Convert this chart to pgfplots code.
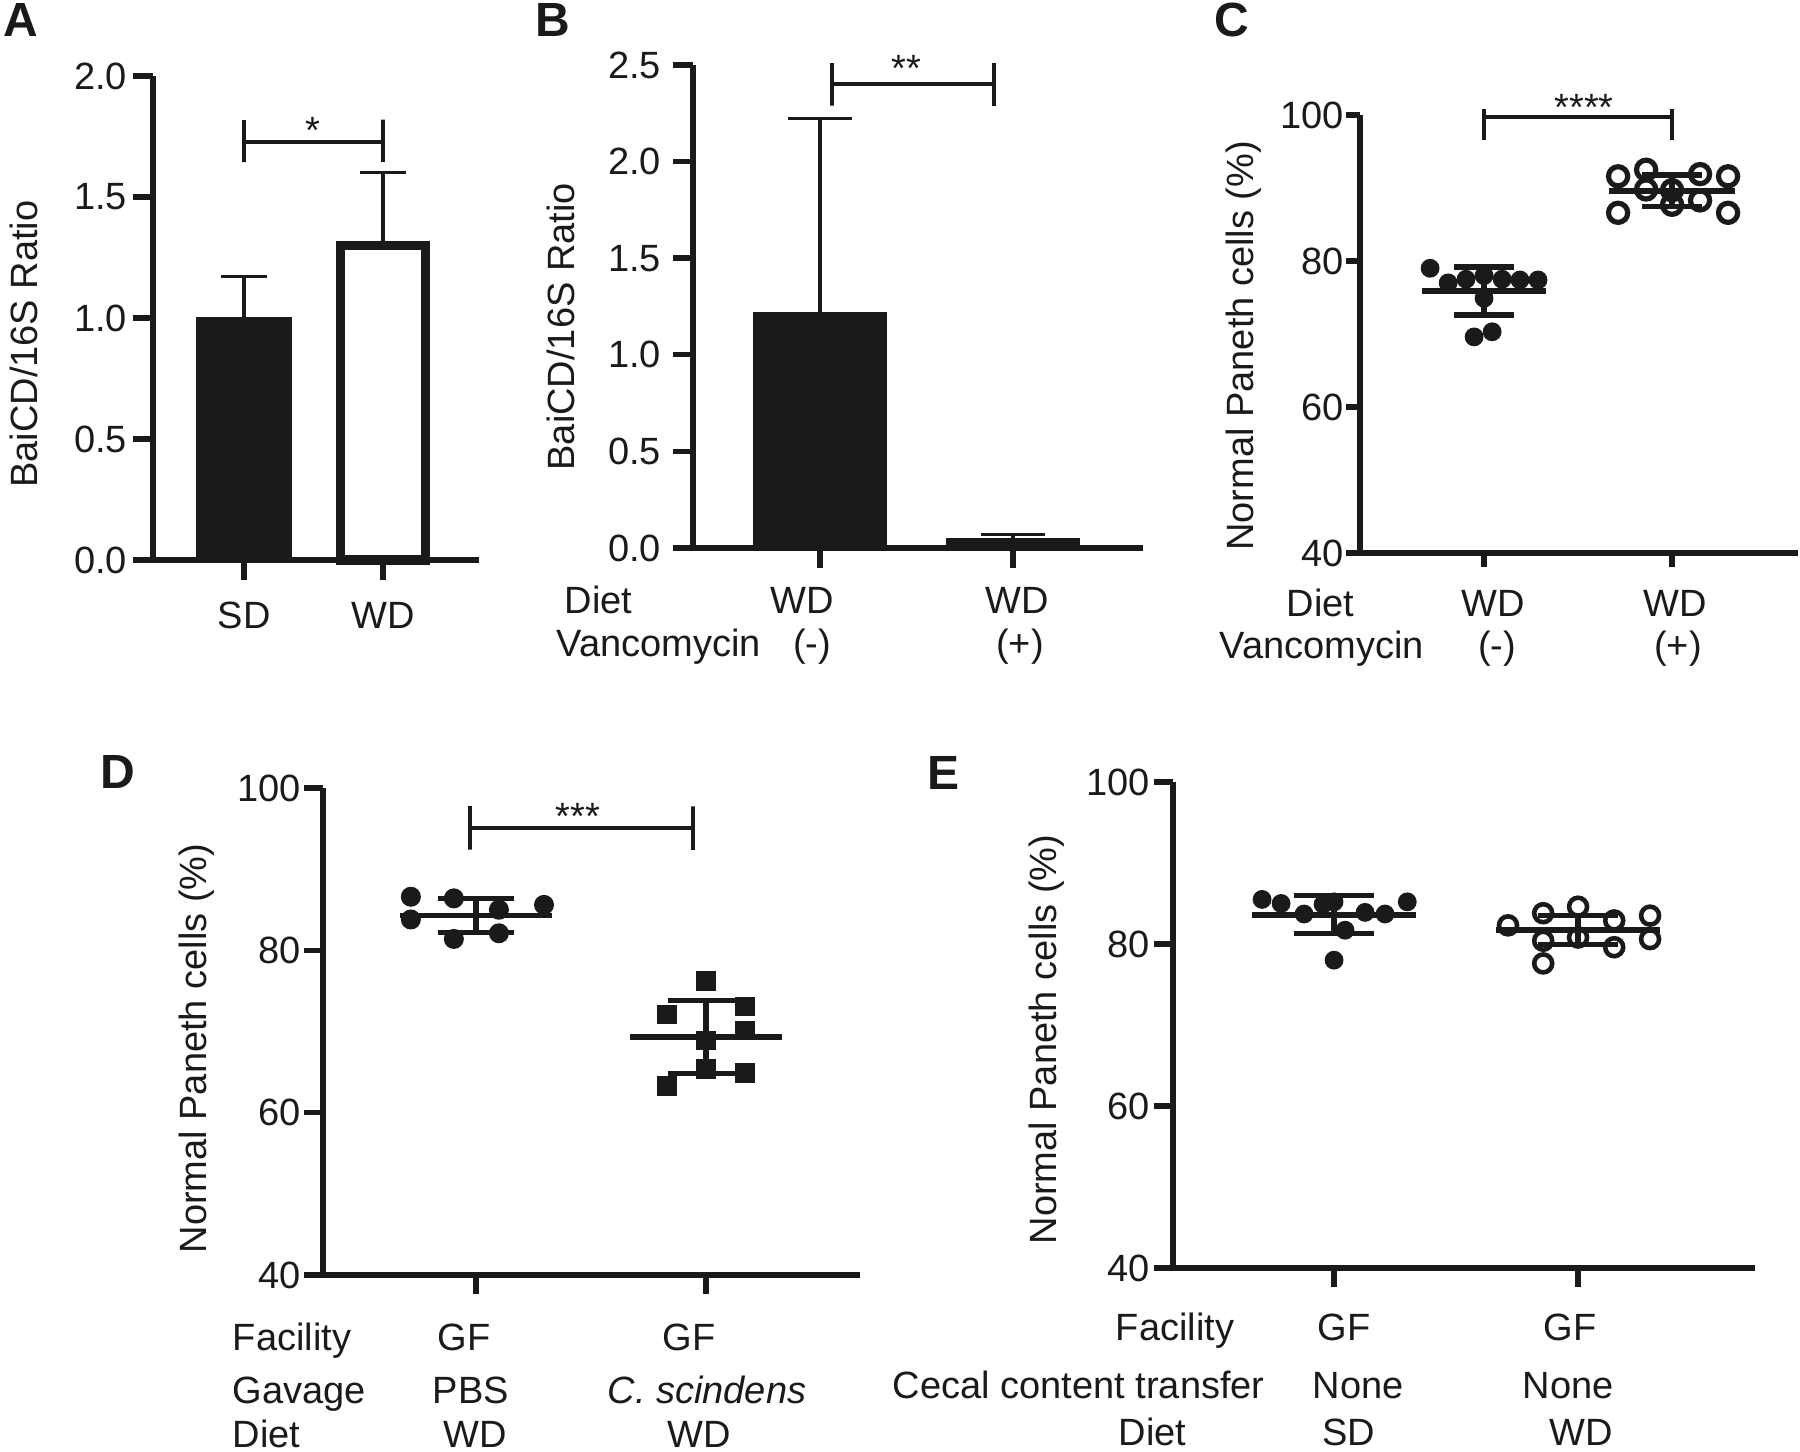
\documentclass[border=0pt]{standalone}
\usepackage{fontspec}
\setmainfont{Liberation Sans}
\usepackage{pgfplots}
\pgfplotsset{compat=1.18}
\newcommand{\lbl}{\fontsize{9.5pt}{11pt}\selectfont}
\newcommand{\pl}{\fontsize{12pt}{14pt}\selectfont\bfseries}
\definecolor{ink}{HTML}{1A1A1A}
\pgfplotsset{
  gp/.style={
    scale only axis, anchor=south west, clip=false,
    axis lines=left, axis line style={line width=1.35pt,-,ink},
    tick align=outside, major tick length=4.75pt,
    every tick/.style={ink, line width=1.35pt},
    tick label style={font=\lbl, text=ink},
    label style={font=\lbl, text=ink},
    /pgf/number format/assume math mode=true,
    xtick={1,2}, xticklabels={}, minor tick num=0,
    every axis plot/.append style={ink},
  },
  pct/.style={gp, ymin=40, ymax=100, ytick={40,60,80,100}, ylabel={Normal Paneth cells (\%)}},
  ratio/.style={gp, ymin=0, yticklabel style={/pgf/number format/fixed, /pgf/number format/fixed zerofill, /pgf/number format/precision=1}, ylabel={BaiCD/16S Ratio}},
  fdot/.style={only marks, mark=*, mark size=2.2pt, mark options={draw=ink, fill=ink, line width=0.3pt}},
  odot/.style={only marks, mark=o, mark size=2.4pt, mark options={draw=ink, line width=1.3pt}},
  fsq/.style={only marks, mark=square*, mark size=2.3pt, mark options={draw=ink, fill=ink, line width=0.3pt}},
  sdbar/.style 2 args={draw=none, mark=none, error bars/.cd, y dir=both, y explicit,
    error bar style={line width=#1, draw=ink},
    error mark options={rotate=90, mark size=#2, line width=#1, draw=ink}},
}
\begin{document}
\begin{tikzpicture}
\path[use as bounding box] (0,0) rectangle (450pt,363pt);

% ---------------- A ----------------
\begin{axis}[ratio, at={(38.25pt,223pt)}, width=81.5pt, height=121pt,
  xmin=0.345, xmax=2.69, ymax=2, ytick={0,0.5,...,2}, major tick length=5pt,
  yticklabel style={xshift=2pt},
  xticklabels={SD,WD}, xticklabel style={yshift=-2pt},
  ylabel style={at={(axis description cs:-0.396,0.446)}, anchor=center}]
\addplot[ybar, bar shift=0pt, bar width=0.683, fill=ink, draw=ink, line width=0.4pt,
  error bars/.cd, y dir=plus, y explicit, error bar style={line width=0.8pt, draw=ink},
  error mark options={rotate=90, mark size=5.75pt, line width=0.8pt, draw=ink}]
  coordinates {(1,1.0) +- (0,0.17)};
\addplot[ybar, bar shift=0pt, bar width=0.616, fill=white, draw=ink, line width=2.3pt,
  error bars/.cd, y dir=plus, y explicit, error bar style={line width=0.8pt, draw=ink},
  error mark options={rotate=90, mark size=5.75pt, line width=0.8pt, draw=ink}]
  coordinates {(2,1.30) +- (0,0.30)};
\addplot[line width=1.05pt] coordinates {(1,1.82) (1,1.644) (1,1.728) (2,1.728) (2,1.82) (2,1.644)};
\node[font=\lbl, text=ink] at (axis cs:1.496,1.777) {*};
\end{axis}

% ---------------- B ----------------
\begin{axis}[ratio, at={(173.25pt,226pt)}, width=112.5pt, height=120.75pt,
  xmin=0.342, xmax=2.674, ymax=2.5, ytick={0,0.5,...,2.5}, major tick length=5pt,
  yticklabel style={xshift=0.5pt},
  ylabel style={at={(axis description cs:-0.293,0.458)}, anchor=center}]
\addplot[ybar, bar shift=0pt, bar width=0.684, fill=ink, draw=ink, line width=0.4pt,
  error bars/.cd, y dir=plus, y explicit, error bar style={line width=0.8pt, draw=ink},
  error mark options={rotate=90, mark size=8pt, line width=0.8pt, draw=ink}]
  coordinates {(1,1.215) +- (0,1.01) (2,0.047) +- (0,0.021)};
\addplot[line width=1.05pt] coordinates {(1.062,2.51) (1.062,2.29) (1.062,2.40) (1.90,2.40) (1.90,2.51) (1.90,2.29)};
\node[font=\lbl, text=ink] at (axis cs:1.446,2.484) {**};
\end{axis}

% ---------------- C ----------------
\begin{axis}[pct, at={(340pt,224.75pt)}, width=109.5pt, height=109.5pt,
  xmin=0.34, xmax=2.67, major tick length=3.5pt,
  yticklabel style={xshift=3pt},
  ylabel style={at={(axis description cs:-0.265,0.473)}, anchor=center}]
\addplot[fdot] coordinates {(0.713,79.0) (0.809,77.0) (0.904,77.5) (1.0,78.0) (1.096,77.5)
  (1.191,77.4) (1.287,77.4) (1.0,74.9) (0.947,69.6) (1.043,70.3)};
\addplot[odot] coordinates {(1.713,91.6) (1.713,86.6) (1.862,92.5) (1.862,89.8) (2.0,89.7)
  (2.0,87.7) (2.149,91.9) (2.149,88.3) (2.298,91.6) (2.298,86.6)};
\addplot[line width=1.6pt] coordinates {(0.67,75.9) (1.33,75.9)};
\addplot[line width=1.6pt] coordinates {(1.665,89.6) (2.335,89.6)};
\addplot[sdbar={1.4pt}{7.5pt}] coordinates {(1,75.9) +- (0,3.3) (2,89.6) +- (0,2.15)};
\addplot[line width=1.05pt] coordinates {(1,100.8) (1,96.6) (1,99.7) (2,99.7) (2,100.8) (2,96.6)};
\node[font=\lbl, text=ink] at (axis cs:1.532,101.1) {****};
\end{axis}

% ---------------- D ----------------
\begin{axis}[pct, at={(80.75pt,44.25pt)}, width=134.25pt, height=121.75pt,
  xmin=0.335, xmax=2.67,
  yticklabel style={xshift=2.75pt},
  ylabel style={at={(axis description cs:-0.235,0.465)}, anchor=center}]
\addplot[fdot, mark size=2.35pt] coordinates {(0.717,86.6) (0.717,83.8) (0.904,86.4) (0.904,81.4)
  (1.1,85.0) (1.1,82.1) (1.296,85.6)};
\addplot[fsq] coordinates {(2.0,76.2) (1.83,72.1) (2.17,73.1) (2.17,70.1) (2.0,68.9)
  (2.0,65.4) (2.17,64.9) (1.83,63.3)};
\addplot[line width=1.4pt] coordinates {(0.67,84.3) (1.33,84.3)};
\addplot[line width=1.4pt] coordinates {(1.67,69.3) (2.33,69.3)};
\addplot[sdbar={1.3pt}{9.5pt}] coordinates {(1,84.3) +- (0,2.1) (2,69.3) +- (0,4.5)};
\addplot[line width=1.05pt] coordinates {(0.974,97.74) (0.974,92.4) (0.974,95.07) (1.943,95.07) (1.943,97.74) (1.943,92.4)};
\node[font=\lbl, text=ink] at (axis cs:1.443,96.5) {***};
\end{axis}

% ---------------- E ----------------
\begin{axis}[pct, at={(293.25pt,46pt)}, width=145.5pt, height=121.5pt,
  xmin=0.34, xmax=2.725,
  yticklabel style={xshift=2.5pt},
  ylabel style={at={(axis description cs:-0.2165,0.47)}, anchor=center}]
\addplot[fdot] coordinates {(0.705,85.5) (0.783,85.0) (0.877,83.7) (0.955,84.9) (1.0,85.2)
  (1.045,81.7) (1.127,83.9) (1.209,83.7) (1.3,85.2) (1.0,78.0)};
\addplot[odot, mark size=2.25pt, mark options={line width=1.15pt}] coordinates {(1.713,82.3) (1.857,83.8) (1.857,80.4) (1.857,77.6) (2.0,84.6)
  (2.0,80.8) (2.148,82.9) (2.148,79.6) (2.295,83.5) (2.295,80.6)};
\addplot[line width=1.4pt] coordinates {(0.665,83.6) (1.335,83.6)};
\addplot[line width=1.4pt] coordinates {(1.665,81.7) (2.335,81.7)};
\addplot[sdbar={1.3pt}{10pt}] coordinates {(1,83.6) +- (0,2.35) (2,81.7) +- (0,1.8)};
\end{axis}

% ---------------- labels (pixel coordinates, origin top-left) ----------------
\begin{scope}[x=0.25pt, y=-0.25pt, shift={(0pt,363pt)}, every node/.style={font=\lbl, text=ink, inner sep=0pt}]
\node[anchor=base west, font=\pl] at (3,37) {A};
\node[anchor=base west, font=\pl] at (535,37) {B};
\node[anchor=base west, font=\pl] at (1214,37) {C};
\node[anchor=base west, font=\pl] at (100,789) {D};
\node[anchor=base west, font=\pl] at (927,790) {E};
% B
\node[anchor=base west] at (564,614) {Diet};
\node[anchor=base west] at (556,657) {Vancomycin};
\node[anchor=base] at (802,614) {WD};
\node[anchor=base] at (1017,614) {WD};
\node[anchor=base] at (812,657) {(-)};
\node[anchor=base] at (1020,657) {(+)};
% C
\node[anchor=base west] at (1286,617) {Diet};
\node[anchor=base west] at (1219,659) {Vancomycin};
\node[anchor=base] at (1493,617) {WD};
\node[anchor=base] at (1675,617) {WD};
\node[anchor=base] at (1497,659) {(-)};
\node[anchor=base] at (1678,659) {(+)};
% D
\node[anchor=base west] at (232,1351) {Facility};
\node[anchor=base west] at (232,1404) {Gavage};
\node[anchor=base west] at (232,1448) {Diet};
\node[anchor=base] at (464,1351) {GF};
\node[anchor=base] at (689,1351) {GF};
\node[anchor=base] at (471,1404) {PBS};
\node[anchor=base] at (707,1404) {\textit{C. scindens}};
\node[anchor=base] at (475,1448) {WD};
\node[anchor=base] at (699,1448) {WD};
% E
\node[anchor=base west] at (1115,1341) {Facility};
\node[anchor=base west] at (892,1399) {Cecal content transfer};
\node[anchor=base west] at (1118,1446) {Diet};
\node[anchor=base] at (1344,1341) {GF};
\node[anchor=base] at (1570,1341) {GF};
\node[anchor=base] at (1358,1399) {None};
\node[anchor=base] at (1568,1399) {None};
\node[anchor=base] at (1349,1446) {SD};
\node[anchor=base] at (1581,1446) {WD};
\end{scope}
\end{tikzpicture}
\end{document}
